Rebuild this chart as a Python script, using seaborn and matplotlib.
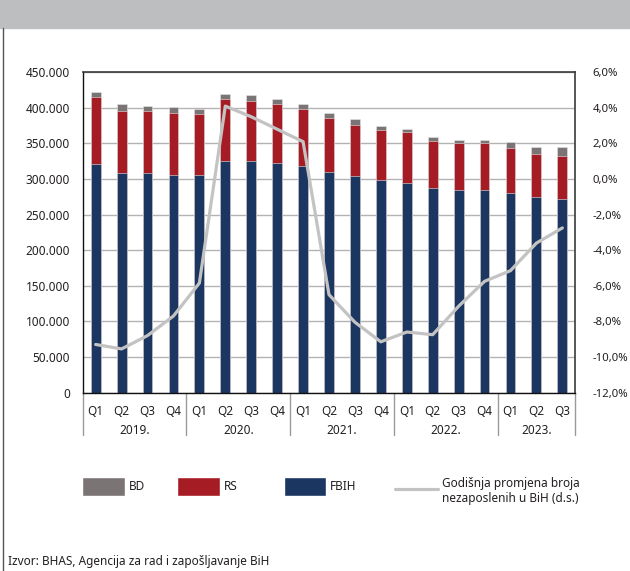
import numpy as np
import pandas as pd
import seaborn as sns
import matplotlib.pyplot as plt
import matplotlib.transforms as mtransforms
from matplotlib.patches import Patch, Rectangle
from matplotlib.lines import Line2D
from matplotlib.ticker import FuncFormatter, MultipleLocator

# --------------------------------------------------------------
# Data
# --------------------------------------------------------------
quarters = ["Q1", "Q2", "Q3", "Q4"] * 4 + ["Q1", "Q2", "Q3"]
years = ["2019.", "2020.", "2021.", "2022.", "2023."]
year_sizes = [4, 4, 4, 4, 3]

fbih = [321, 308, 308, 306, 306, 325, 325, 323, 318, 310, 304, 299, 294,
        287, 284, 284, 281, 275, 272]
rs = [94, 88, 88, 87, 85, 88, 85, 82, 80, 76, 72, 70, 72, 67, 66, 66, 63,
      60, 60]
bd = [8, 10, 7, 8, 7, 7, 8, 7.5, 7, 7, 8, 5, 5, 4.6, 4.6, 4.6, 7.4, 10, 12.6]

change_pct = [-9.3, -9.55, -8.8, -7.7, -5.85, 4.1, 3.5, 2.8, 2.1, -6.5, -8.05,
              -9.15, -8.6, -8.75, -7.15, -5.75, -5.15, -3.6, -2.75]

df = pd.DataFrame({
    "pos": np.arange(len(quarters)),
    "quarter": quarters,
    "FBIH": np.array(fbih) * 1000,
    "RS": np.array(rs) * 1000,
    "BD": np.array(bd) * 1000,
    "change": change_pct,
})
df["fbih_rs"] = df["FBIH"] + df["RS"]
df["total"] = df["fbih_rs"] + df["BD"]

c_bd = "#7a7574"
c_rs = "#a51c24"
c_fbih = "#1b3660"
c_line = "#c3c3c3"
txt = "#231f20"

sns.set_theme(style="white")
plt.rcParams["font.family"] = ["Noto Sans", "DejaVu Sans"]
plt.rcParams["font.size"] = 8.5

fig = plt.figure(figsize=(6.3, 5.71), dpi=100)
ax = fig.add_axes([82.7 / 630, 1 - 392.5 / 571, 492.6 / 630, 320.2 / 571])

# stacked bars: draw cumulative layers from the tallest down
for col, color in [("total", c_bd), ("fbih_rs", c_rs), ("FBIH", c_fbih)]:
    sns.barplot(data=df, x="pos", y=col, color=color, width=0.38,
                saturation=1, edgecolor="#e6e6e6", linewidth=0.4, ax=ax)

ax.set_ylim(0, 450000)
ax.set_xlim(-0.5, len(quarters) - 0.5)
ax.yaxis.set_major_locator(MultipleLocator(50000))
ax.yaxis.set_major_formatter(
    FuncFormatter(lambda v, p: "0" if v == 0 else f"{int(v):,}".replace(",", ".")))
ax.grid(axis="y", color="#b3b3b3", linewidth=1)
ax.set_axisbelow(True)
ax.set_xlabel("")
ax.set_ylabel("")
ax.tick_params(axis="y", length=0, pad=9, labelcolor=txt, labelsize=8.5)
ax.set_xticks(df["pos"])
ax.set_xticklabels(quarters)
ax.tick_params(axis="x", length=0, pad=9, labelcolor=txt, labelsize=8.5)
for s in ["left", "bottom"]:
    ax.spines[s].set_color("#111111")
    ax.spines[s].set_linewidth(1.0)
for s in ["top", "right"]:
    ax.spines[s].set_color("#3a3a3a")
    ax.spines[s].set_linewidth(1.2)

# year labels and separators under the quarter labels
trans = mtransforms.blended_transform_factory(ax.transData, ax.transAxes)
start = -0.5
ax.plot([start, start], [0, -0.133], transform=trans, color="#9a9a9a",
        linewidth=1, clip_on=False)
for year, n in zip(years, year_sizes):
    end = start + n
    ax.text((start + end) / 2, -0.118, year, transform=trans, ha="center",
            va="center", fontsize=8.5, color=txt)
    ax.plot([end, end], [0, -0.133], transform=trans, color="#9a9a9a",
            linewidth=1, clip_on=False)
    start = end

# annual change line on the right axis
ax2 = ax.twinx()
sns.lineplot(x=df["pos"], y=df["change"], color=c_line, linewidth=2.3, ax=ax2)
ax2.set_ylim(-12, 6)
ax2.yaxis.set_major_locator(MultipleLocator(2))
ax2.yaxis.set_major_formatter(
    FuncFormatter(lambda v, p: f"{v:.1f}%".replace(".", ",")))
ax2.tick_params(axis="y", length=0, pad=12.5, labelcolor=txt, labelsize=8.2)
ax2.set_ylabel("")
for s in ax2.spines.values():
    s.set_visible(False)
ax2.grid(False)

# legend entries placed like the original (fixed-width columns)
entries = [
    (Patch(facecolor=c_bd), "BD", 82 / 630),
    (Patch(facecolor=c_rs), "RS", 177 / 630),
    (Patch(facecolor=c_fbih), "FBIH", 283.6 / 630),
    (Line2D([], [], color=c_line, linewidth=2.3),
     "Godišnja promjena broja\nnezaposlenih u BiH (d.s.)", 395 / 630),
]
for handle, label, xpos in entries:
    leg = fig.legend([handle], [label], loc="upper left",
                     bbox_to_anchor=(xpos, 1 - 477 / 571), frameon=False,
                     borderpad=0, borderaxespad=0, handlelength=3.6,
                     handleheight=2.1, handletextpad=0.35, fontsize=8.5,
                     labelcolor=txt)

# page decoration: grey header band, left frame line, source
fig.patches.append(Rectangle((0, 1 - 28.3 / 571), 1, 28.3 / 571,
                             transform=fig.transFigure, color="#bdbec0",
                             zorder=0))
fig.lines.append(Line2D([2.7 / 630, 2.7 / 630], [0, 1 - 28.3 / 571],
                        transform=fig.transFigure, color="#555555",
                        linewidth=1))
fig.text(8 / 630, 1 - 561 / 571, "Izvor: BHAS, Agencija za rad i zapošljavanje BiH",
         ha="left", va="center", fontsize=8.5, color=txt)

fig.savefig("out.png", dpi=100)
